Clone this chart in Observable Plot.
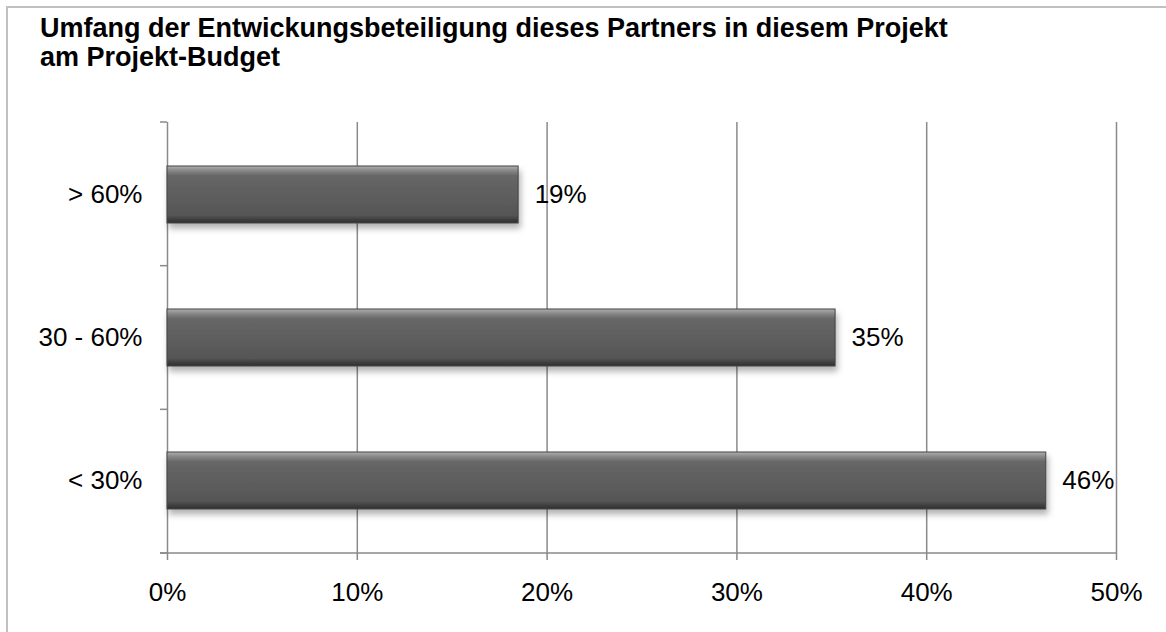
<!DOCTYPE html>
<html>
<head>
<meta charset="utf-8">
<script src="https://cdn.jsdelivr.net/npm/d3@7"></script>
<script src="https://cdn.jsdelivr.net/npm/@observablehq/plot@0.6"></script>
<style>
  html, body { margin: 0; padding: 0; background: #fff; overflow: hidden; }
  #wrap { position: relative; width: 1166px; height: 632px; overflow: hidden; font-family: "Liberation Sans", Arial, sans-serif; }
  #frame { position: absolute; left: 6px; top: 6px; width: 1300px; height: 800px; border: 2px solid #c0c0c0; box-sizing: border-box; }
  #title { position: absolute; left: 40px; top: 14px; font-weight: bold; font-size: 27px; line-height: 28.5px; color: #000; white-space: nowrap; }
  #chart { position: absolute; left: 0; top: 0; }
</style>
</head>
<body>
<div id="wrap">
  <div id="frame"></div>
  <div id="title">Umfang der Entwickungsbeteiligung dieses Partners in diesem Projekt<br>am Projekt-Budget</div>
  <div id="chart"></div>
</div>
<script>
const categories = ["> 60%", "30 - 60%", "< 30%"];
const shares = [18.5, 35.2, 46.3];
const xTicks = [0, 10, 20, 30, 40, 50];

const data = categories.map((c, i) => ({category: c, value: shares[i]}));

const axisFrame = (index, scales, values, dimensions) => {
  const {width, height, marginTop, marginBottom, marginRight} = dimensions;
  const g = d3.create("svg:g");
  const top = marginTop, bottom = height - marginBottom;
  const step = (bottom - top) / categories.length;
  const x0 = scales.x(0);
  for (let k = 0; k <= categories.length; k++) {
    g.append("line").attr("x1", x0 - 7).attr("x2", x0).attr("y1", top + k * step).attr("y2", top + k * step)
      .attr("stroke", "#8a8a8a").attr("stroke-width", 1.5);
  }
  g.append("line").attr("x1", x0 - 7).attr("x2", width - marginRight).attr("y1", bottom).attr("y2", bottom)
    .attr("stroke", "#8a8a8a").attr("stroke-width", 1.5);
  return g.node();
};

const plot = Plot.plot({
  width: 1166,
  height: 632,
  marginLeft: 167,
  marginRight: 50,
  marginTop: 122,
  marginBottom: 79,
  style: {fontFamily: "'Liberation Sans', Arial, sans-serif", fontSize: "26px", color: "#000", background: "transparent", overflow: "visible"},
  x: {domain: [0, 50]},
  y: {domain: categories, paddingInner: 0.6, paddingOuter: 0.3},
  marks: [
    Plot.gridX(xTicks, {stroke: "#8a8a8a", strokeOpacity: 1, strokeWidth: 1.5}),
    axisFrame,
    Plot.barX(data, {x: "value", y: "category", fill: "url(#barGrad)", stroke: "#444", strokeWidth: 1}),
    Plot.text(data, {x: "value", y: "category", text: d => Math.round(d.value) + "%", textAnchor: "start", dx: 16, fill: "#000", fontSize: 26}),
    Plot.axisX(xTicks, {tickSize: 7, tickPadding: 22, tickFormat: d => d + "%", stroke: "#8a8a8a", strokeWidth: 1.5, fontSize: 26, label: null}),
    Plot.axisY({tickSize: 0, tickPadding: 25, fontSize: 26, label: null})
  ]
});

const svg = d3.select(plot);
const defs = svg.insert("defs", ":first-child");
const grad = defs.append("linearGradient").attr("id", "barGrad").attr("x1", 0).attr("y1", 0).attr("x2", 0).attr("y2", 1);
[[0, "#b0b0b0"], [0.07, "#8c8c8c"], [0.17, "#676767"], [0.5, "#5e5e5e"], [0.86, "#565656"], [0.94, "#3e3e3e"], [1, "#2f2f2f"]]
  .forEach(([o, c]) => grad.append("stop").attr("offset", o).attr("stop-color", c));
const f = defs.append("filter").attr("id", "shadow").attr("x", "-5%").attr("y", "-20%").attr("width", "110%").attr("height", "160%");
f.append("feDropShadow").attr("dx", 2).attr("dy", 5).attr("stdDeviation", 3).attr("flood-color", "#000").attr("flood-opacity", 0.3);
svg.selectAll("g[aria-label=bar] rect").attr("filter", "url(#shadow)");

document.getElementById("chart").appendChild(plot);
</script>
</body>
</html>
